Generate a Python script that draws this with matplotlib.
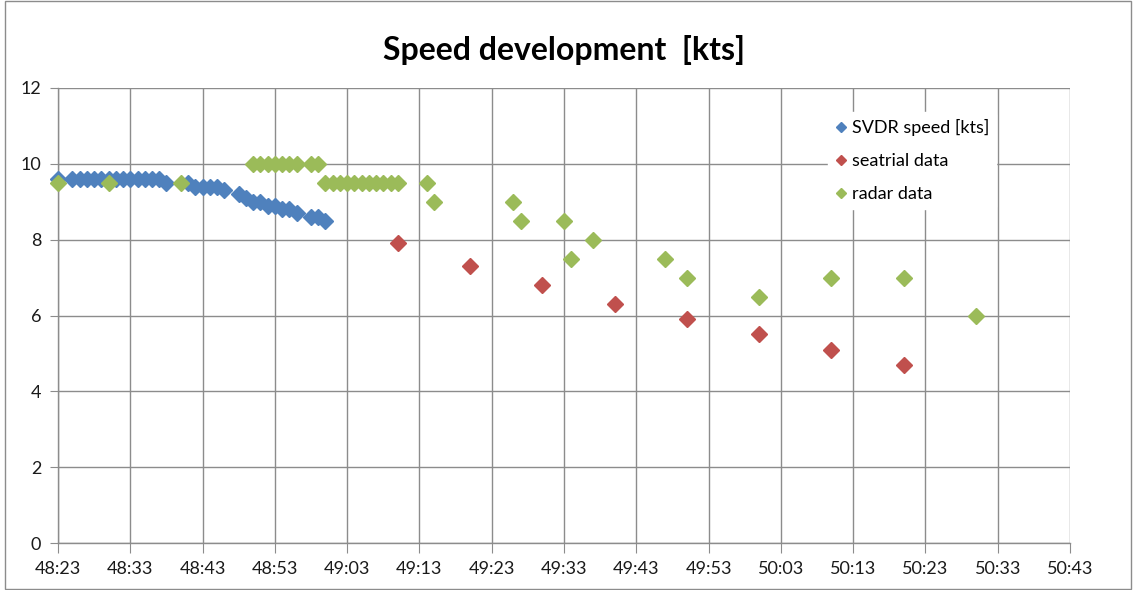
import matplotlib
matplotlib.use("Agg")
import matplotlib.pyplot as plt
from matplotlib.patches import Rectangle

plt.rcParams['font.family'] = ['Lato', 'DejaVu Sans']

# ---- data (time as mm:ss, speed in kts) ----
svdr_times = ["48:23", "48:25", "48:26", "48:27", "48:28", "48:29", "48:30", "48:31",
              "48:32", "48:33", "48:34", "48:35", "48:36", "48:37", "48:38",
              "48:41", "48:42", "48:43", "48:44", "48:45", "48:46",
              "48:48", "48:49", "48:50", "48:51", "48:52", "48:53", "48:54", "48:55", "48:56",
              "48:58", "48:59", "49:00"]
svdr_speed = [9.6, 9.6, 9.6, 9.6, 9.6, 9.6, 9.6, 9.6,
              9.6, 9.6, 9.6, 9.6, 9.6, 9.6, 9.5,
              9.5, 9.4, 9.4, 9.4, 9.4, 9.3,
              9.2, 9.1, 9.0, 9.0, 8.9, 8.9, 8.8, 8.8, 8.7,
              8.6, 8.6, 8.5]

seatrial_times = ["49:10", "49:20", "49:30", "49:40", "49:50", "50:00", "50:10", "50:20"]
seatrial_speed = [7.9, 7.3, 6.8, 6.3, 5.9, 5.5, 5.1, 4.7]

radar_times = ["48:23", "48:30", "48:40",
               "48:50", "48:51", "48:52", "48:53", "48:54", "48:55", "48:56", "48:58", "48:59",
               "49:00", "49:01", "49:02", "49:03", "49:04", "49:05", "49:06", "49:07", "49:08",
               "49:09", "49:10",
               "49:14", "49:15", "49:26", "49:27", "49:33", "49:34", "49:37", "49:47", "49:50",
               "50:00", "50:10", "50:20", "50:30"]
radar_speed = [9.5, 9.5, 9.5,
               10.0, 10.0, 10.0, 10.0, 10.0, 10.0, 10.0, 10.0, 10.0,
               9.5, 9.5, 9.5, 9.5, 9.5, 9.5, 9.5, 9.5, 9.5,
               9.5, 9.5,
               9.5, 9.0, 9.0, 8.5, 8.5, 7.5, 8.0, 7.5, 7.0,
               6.5, 7.0, 7.0, 6.0]

x_tick_labels = ["48:23", "48:33", "48:43", "48:53", "49:03", "49:13", "49:23", "49:33",
                 "49:43", "49:53", "50:03", "50:13", "50:23", "50:33", "50:43"]
y_ticks = [0, 2, 4, 6, 8, 10, 12]

title = "Speed development  [kts]"
series_names = ["SVDR speed [kts]", "seatrial data", "radar data"]


def to_sec(t):
    m, s = t.split(":")
    return int(m) * 60 + int(s)


fig = plt.figure(figsize=(11.36, 5.90), dpi=100)
ax = fig.add_axes([58 / 1136, 1 - 543 / 590, (1070 - 58) / 1136, (543 - 88) / 590])

blue, red, green = "#4F81BD", "#C0504D", "#9BBB59"
ms = 7.8
ax.plot([to_sec(t) for t in svdr_times], svdr_speed, linestyle="none", marker="D",
        ms=ms, color=blue, mec=blue, label=series_names[0], zorder=3, clip_on=False)
ax.plot([to_sec(t) for t in seatrial_times], seatrial_speed, linestyle="none", marker="D",
        ms=ms, color=red, mec=red, label=series_names[1], zorder=4, clip_on=False)
ax.plot([to_sec(t) for t in radar_times], radar_speed, linestyle="none", marker="D",
        ms=ms, color=green, mec=green, label=series_names[2], zorder=5, clip_on=False)

xt = [to_sec(t) for t in x_tick_labels]
ax.set_xticks(xt)
ax.set_xticklabels(x_tick_labels)
ax.set_xlim(xt[0], xt[-1])
ax.set_yticks(y_ticks)
ax.set_ylim(0, 12)

grid_c = "#8C8C8C"
ax.grid(True, color=grid_c, linewidth=1.0)
ax.set_axisbelow(True)
for s in ["top", "right"]:
    ax.spines[s].set_visible(False)
for s in ["left", "bottom"]:
    ax.spines[s].set_color(grid_c)
    ax.spines[s].set_linewidth(1.0)
ax.tick_params(axis="x", direction="out", length=7, color=grid_c, labelsize=13, pad=6,
               labelcolor="#1a1a1a")
ax.tick_params(axis="y", direction="out", length=6, color=grid_c, labelsize=13, pad=6,
               labelcolor="#1a1a1a")

ax.set_title(title, fontsize=23, fontweight="bold", pad=20)

leg = ax.legend(loc="upper left", bbox_to_anchor=(0.752, 0.968), frameon=True,
                fontsize=13, markerscale=0.6, handlelength=0.6, handletextpad=0.3,
                labelspacing=0.95, borderpad=0.4)
leg.get_frame().set_edgecolor("white")
leg.get_frame().set_facecolor("white")
leg.get_frame().set_alpha(1.0)
leg.set_zorder(10)

fig.patches.append(Rectangle((0.004, 0.002), 0.992, 0.996, transform=fig.transFigure,
                             fill=False, edgecolor="#8C8C8C", linewidth=1.0))

fig.savefig("out.png", dpi=100)
